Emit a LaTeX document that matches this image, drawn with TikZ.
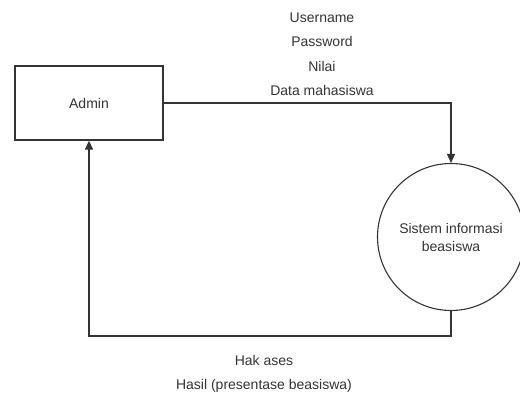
\documentclass[tikz,border=0pt]{standalone}
\usepackage{fontspec}
\setmainfont{Liberation Sans}
\usetikzlibrary{arrows.meta,positioning}
\definecolor{garis}{HTML}{333333}
\begin{document}
\begin{tikzpicture}[x=1pt,y=-1pt,
  entitas/.style={draw=garis, line width=1.3pt, minimum width=148pt, minimum height=74pt, text=garis},
  proses/.style={draw=garis, line width=1.1pt, circle, minimum size=147pt, align=center, text=garis, font=\fontsize{14}{18}\selectfont},
  aliran/.style={align=center, text=garis, font=\fontsize{14}{24.5}\selectfont},
  panah/.style={draw=garis, line width=1.3pt, -{Triangle[length=9pt,width=8pt]}},
  font=\fontsize{14}{17}\selectfont]
\useasboundingbox (0,0) rectangle (520,394);
\node (admin) [entitas] at (89,103) {Admin};
\node (sistem) [proses] at (451,237) {Sistem informasi\\beasiswa};
\node (masuk) [aliran] at (322,54) {Username\\Password\\Nilai\\Data mahasiswa};
\node (keluar) [aliran] at (264,374) {Hak ases\\Hasil (presentase beasiswa)};
\coordinate [below=25pt of sistem.south] (belok);
\draw [panah] (admin.east) -| (sistem.north);
\draw [panah] (sistem.south) -- (belok) -| (admin.south);
\end{tikzpicture}
\end{document}
